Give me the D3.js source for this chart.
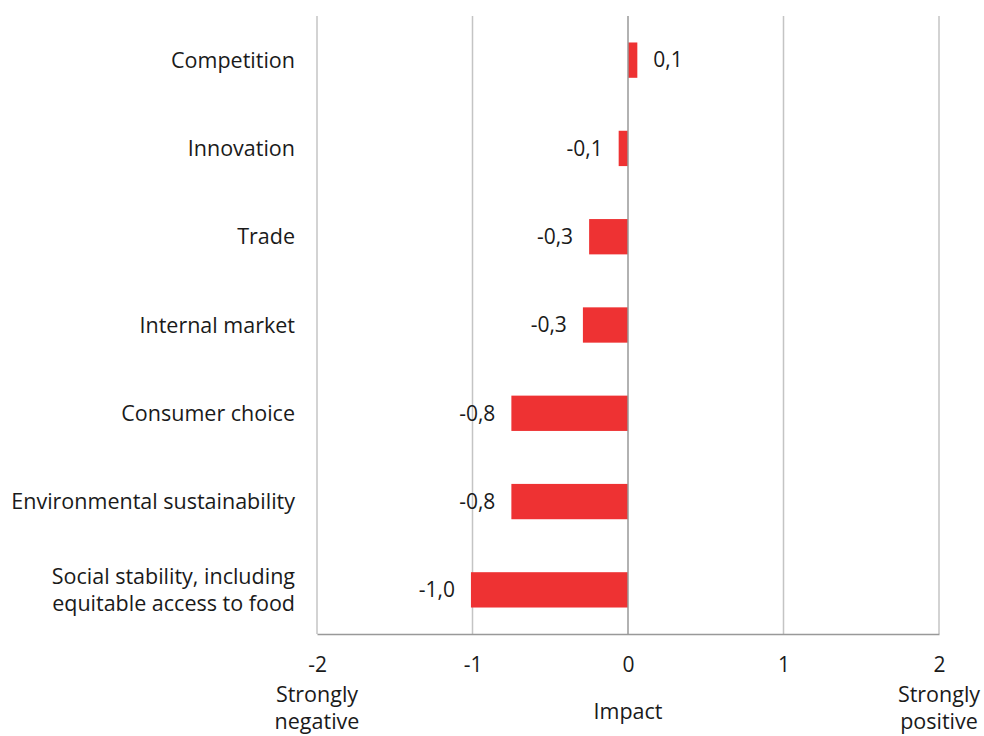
<!DOCTYPE html>
<html>
<head>
<meta charset="utf-8">
<script src="https://cdn.jsdelivr.net/npm/d3@7"></script>
<style>
  html, body { margin: 0; padding: 0; background: #fff; }
  svg { display: block; }
  text { font-family: "Open Sans", "Noto Sans", sans-serif; fill: #1a1a1a; }
</style>
</head>
<body>
<svg id="chart" width="984" height="736"></svg>
<script>
// Assessed impact per area (scale from -2 strongly negative to 2 strongly positive)
const categories = [
  "Competition",
  "Innovation",
  "Trade",
  "Internal market",
  "Consumer choice",
  "Environmental sustainability",
  "Social stability, including\nequitable access to food"
];
const impact = [0.06, -0.06, -0.25, -0.29, -0.75, -0.75, -1.01];
const tickValues = [-2, -1, 0, 1, 2];
const endLabels = [
  { at: -2, lines: ["Strongly", "negative"] },
  { at: 0, lines: ["Impact"] },
  { at: 2, lines: ["Strongly", "positive"] }
];

const data = categories.map((c, i) => ({ category: c, value: impact[i] }));

const svg = d3.select("#chart");
const margin = { top: 16, right: 45, bottom: 102, left: 317 };
const width = 984, height = 736;
const labelSize = 21.5, numSize = 21;

const x = d3.scaleLinear().domain([-2, 2]).range([margin.left, width - margin.right]);
const y = d3.scaleBand()
  .domain(categories)
  .range([margin.top, height - margin.bottom])
  .paddingInner(0.6)
  .paddingOuter(0.3);

const locale = d3.formatLocale({ decimal: ",", thousands: " ", grouping: [3], currency: ["", ""], minus: "-" });
const fmt = locale.format(".1f");

// Vertical gridlines
svg.append("g")
  .selectAll("line")
  .data(tickValues.filter(t => t !== 0))
  .join("line")
  .attr("x1", d => x(d)).attr("x2", d => x(d))
  .attr("y1", margin.top).attr("y2", height - margin.bottom)
  .attr("stroke", "#c4c4c4")
  .attr("stroke-width", 1.5);

// Bars
svg.append("g")
  .selectAll("rect")
  .data(data)
  .join("rect")
  .attr("x", d => x(Math.min(0, d.value)))
  .attr("width", d => Math.abs(x(d.value) - x(0)))
  .attr("y", d => y(d.category))
  .attr("height", y.bandwidth())
  .attr("fill", "#ee3233");

// Zero line
svg.append("line")
  .attr("x1", x(0)).attr("x2", x(0))
  .attr("y1", margin.top).attr("y2", height - margin.bottom)
  .attr("stroke", "#999")
  .attr("stroke-width", 1.5);

// Bottom axis
const axis = svg.append("g")
  .attr("transform", `translate(0,${height - margin.bottom})`)
  .call(d3.axisBottom(x).tickValues(tickValues).tickSize(0).tickPadding(23).tickFormat(d => String(d)));
axis.select(".domain").attr("stroke", "#999").attr("stroke-width", 1.5);
axis.selectAll(".tick text")
  .attr("font-size", numSize)
  .attr("font-family", '"Open Sans", "Noto Sans", sans-serif')
  .attr("fill", "#1a1a1a");

// Scale end descriptions
const ends = svg.append("g");
endLabels.forEach(e => {
  const t = ends.append("text")
    .attr("x", x(e.at))
    .attr("text-anchor", "middle")
    .attr("font-size", labelSize);
  const startY = e.lines.length === 1 ? 719 : 702;
  e.lines.forEach((line, i) => {
    t.append("tspan").attr("x", x(e.at)).attr("y", startY + i * 27).text(line);
  });
});

// Category labels
const labels = svg.append("g");
data.forEach(d => {
  const lines = d.category.split("\n");
  const cy = y(d.category) + y.bandwidth() / 2;
  const lh = 27;
  const t = labels.append("text")
    .attr("text-anchor", "end")
    .attr("font-size", labelSize);
  lines.forEach((line, i) => {
    t.append("tspan")
      .attr("x", margin.left - 22)
      .attr("y", cy + (i - (lines.length - 1) / 2) * lh)
      .attr("dy", "0.35em")
      .text(line);
  });
});

// Value labels
svg.append("g")
  .selectAll("text")
  .data(data)
  .join("text")
  .attr("x", d => d.value >= 0 ? x(d.value) + 16 : x(d.value) - 16)
  .attr("y", d => y(d.category) + y.bandwidth() / 2)
  .attr("dy", "0.35em")
  .attr("text-anchor", d => d.value >= 0 ? "start" : "end")
  .attr("font-size", numSize)
  .text(d => fmt(d.value));
</script>
</body>
</html>
